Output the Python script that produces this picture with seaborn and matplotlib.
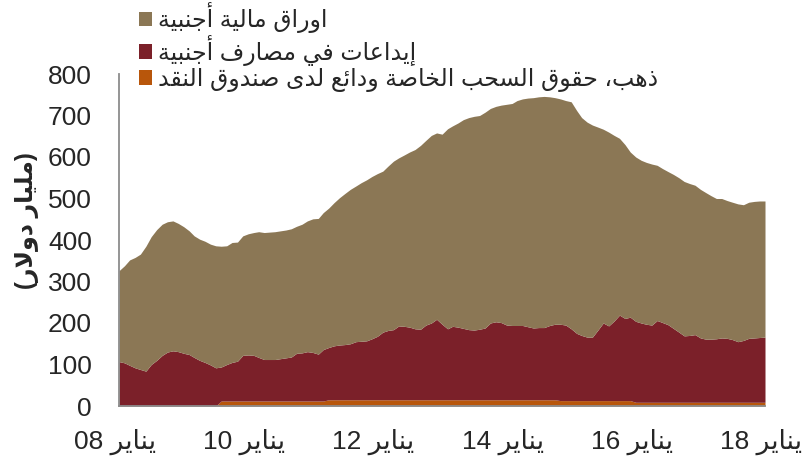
import re
import pandas as pd
import matplotlib
matplotlib.use('Agg')
import matplotlib.pyplot as plt
import matplotlib.transforms as mtransforms
import seaborn as sns

# monthly, Jan 2008 .. Jan 2018 (billion $)
months = pd.date_range('2008-01-01', '2018-01-01', freq='MS')

gold_sdr = [0, 0, 0, 0, 0, 0, 0, 0, 0, 0, 0, 0,
            0, 0, 0, 0, 0, 0, 0, 12, 12, 12, 12, 12,
            12, 12, 12, 12, 12, 12, 12, 12, 12, 12, 12, 12,
            12, 12, 12, 15, 15, 15, 15, 15, 15, 15, 15, 15,
            15, 15, 15, 15, 15, 15, 15, 15, 15, 15, 15, 15,
            15, 15, 15, 15, 15, 15, 15, 15, 15, 15, 15, 15,
            15, 15, 15, 15, 15, 15, 15, 15, 15, 15, 13, 13,
            13, 13, 13, 13, 13, 13, 13, 13, 13, 13, 13, 13,
            9, 9, 9, 9, 9, 9, 9, 9, 9, 9, 9, 9,
            9, 9, 9, 9, 9, 9, 9, 9, 9, 9, 9, 9,
            9]

deposits = [107, 104, 98, 92, 88, 84, 100, 110, 122, 130, 133, 131,
            127, 124, 117, 110, 105, 99, 92, 82, 88, 93, 96, 110,
            111, 110, 105, 100, 100, 100, 102, 104, 106, 115, 116, 119,
            117, 113, 124, 126, 130, 132, 133, 135, 140, 141, 142, 147,
            153, 163, 167, 169, 178, 177, 175, 171, 170, 180, 185, 194,
            182, 171, 177, 175, 172, 169, 168, 170, 173, 185, 188, 186,
            180, 179, 179, 179, 176, 173, 174, 174, 179, 182, 184, 182,
            173, 162, 157, 153, 153, 170, 187, 180, 192, 206, 198, 201,
            195, 191, 188, 186, 197, 192, 187, 178, 169, 160, 161, 163,
            155, 152, 152, 153, 155, 154, 151, 146, 149, 154, 155, 156,
            157]

securities = [219, 234, 254, 266, 278, 301, 308, 315, 316, 314, 313, 309,
              305, 298, 293, 292, 292, 291, 294, 291, 286, 289, 287, 288,
              292, 296, 303, 306, 307, 308, 308, 308, 309, 306, 310, 315,
              322, 327, 330, 336, 345, 355, 364, 372, 375, 382, 388, 391,
              392, 388, 396, 406, 405, 413, 422, 432, 443, 445, 452, 449,
              458, 482, 483, 492, 503, 511, 515, 515, 520, 517, 519, 524,
              532, 535, 542, 546, 551, 555, 556, 557, 551, 546, 543, 541,
              547, 537, 525, 518, 511, 489, 467, 467, 447, 426, 419, 398,
              396, 392, 390, 388, 374, 371, 369, 371, 372, 372, 366, 360,
              358, 353, 346, 338, 336, 332, 331, 332, 327, 328, 329, 329,
              328]

labels = ['اوراق مالية أجنبية', 'إيداعات في مصارف أجنبية',
          'ذهب، حقوق السحب الخاصة ودائع لدى صندوق النقد']
colors = ['#8B7755', '#7B2029', '#B8560B']
tick_years = ['2008', '2010', '2012', '2014', '2016', '2018']
tick_labels = ['يناير 08', 'يناير 10', 'يناير 12', 'يناير 14', 'يناير 16', 'يناير 18']
ylabel = '(مليار دولار)'

# matplotlib has no arabic shaping / bidi -> use presentation forms and reverse
DUAL = dict(zip('ئبتثجحخسشصضطظعغفقكلمنهي',
                [0xFE89, 0xFE8F, 0xFE95, 0xFE99, 0xFE9D, 0xFEA1, 0xFEA5, 0xFEB1,
                 0xFEB5, 0xFEB9, 0xFEBD, 0xFEC1, 0xFEC5, 0xFEC9, 0xFECD, 0xFED1,
                 0xFED5, 0xFED9, 0xFEDD, 0xFEE1, 0xFEE5, 0xFEE9, 0xFEF1]))
RIGHT = dict(zip('آأؤإاةدذرزوى',
                 [0xFE81, 0xFE83, 0xFE85, 0xFE87, 0xFE8D, 0xFE93, 0xFEA9, 0xFEAB,
                  0xFEAD, 0xFEAF, 0xFEED, 0xFEEF]))
LAM_ALEF = {'آ': 0xFEF5, 'أ': 0xFEF7, 'إ': 0xFEF9, 'ا': 0xFEFB}


def ar(s):
    out = []
    i = 0
    while i < len(s):
        c = s[i]
        pj = i > 0 and s[i - 1] in DUAL
        if c == 'ل' and i + 1 < len(s) and s[i + 1] in LAM_ALEF:
            out.append(chr(LAM_ALEF[s[i + 1]] + pj))
            i += 2
            continue
        nxt = s[i + 1] if i + 1 < len(s) else ''
        if c in DUAL:
            nj = nxt in DUAL or nxt in RIGHT
            k = 3 if (pj and nj) else 1 if pj else 2 if nj else 0
            out.append(chr(DUAL[c] + k))
        elif c in RIGHT:
            out.append(chr(RIGHT[c] + (1 if pj else 0)))
        else:
            out.append(c)
        i += 1
    vis = ''.join(out)[::-1]
    vis = re.sub(r'[0-9]+', lambda m: m.group(0)[::-1], vis)
    return vis.translate(str.maketrans('()', ')('))


sns.set_style('white')
FAM = ['Liberation Sans', 'DejaVu Sans']
plt.rcParams['font.family'] = FAM

fig = plt.figure(figsize=(8.05, 4.63), dpi=100)
W, H = 805, 463
ax = fig.add_axes([119 / W, 1 - 406 / H, (765 - 119) / W, (406 - 74) / H])

polys = ax.stackplot(months, gold_sdr, deposits, securities,
                     colors=colors[::-1], linewidth=0, antialiased=True)

ax.set_xlim(months[0], months[-1])
ax.set_ylim(0, 800)
ax.set_yticks(range(0, 801, 100))
ax.set_xticks(pd.to_datetime([y + '-01-01' for y in tick_years]))
ax.set_xticklabels([ar(t) for t in tick_labels])
ax.tick_params(axis='y', labelsize=19, length=6.5, width=1.3, color='#8c8c8c', pad=13)
ax.tick_params(axis='x', labelsize=19, length=6.5, width=1.3, color='#8c8c8c', pad=10)
for lab in ax.get_xticklabels():
    lab.set_transform(lab.get_transform() +
                      mtransforms.ScaledTranslation(-4 / 100, 0, fig.dpi_scale_trans))

sns.despine(ax=ax)
for side in ['left', 'bottom']:
    ax.spines[side].set_color('#8c8c8c')
    ax.spines[side].set_linewidth(1.3)

fig.text(27 / W, 1 - 221 / H, ar(ylabel), rotation=90, ha='center', va='center',
         fontsize=17, fontweight='bold')

leg = fig.legend(polys[::-1], [ar(l) for l in labels], loc='upper left',
                 bbox_to_anchor=(139 / W, 1 - 2 / H), frameon=False,
                 prop={'family': FAM, 'size': 17}, borderpad=0, borderaxespad=0,
                 handlelength=0.55, handleheight=0.55, handletextpad=0.25,
                 labelspacing=0.08)

fig.savefig('out.png', dpi=100)
